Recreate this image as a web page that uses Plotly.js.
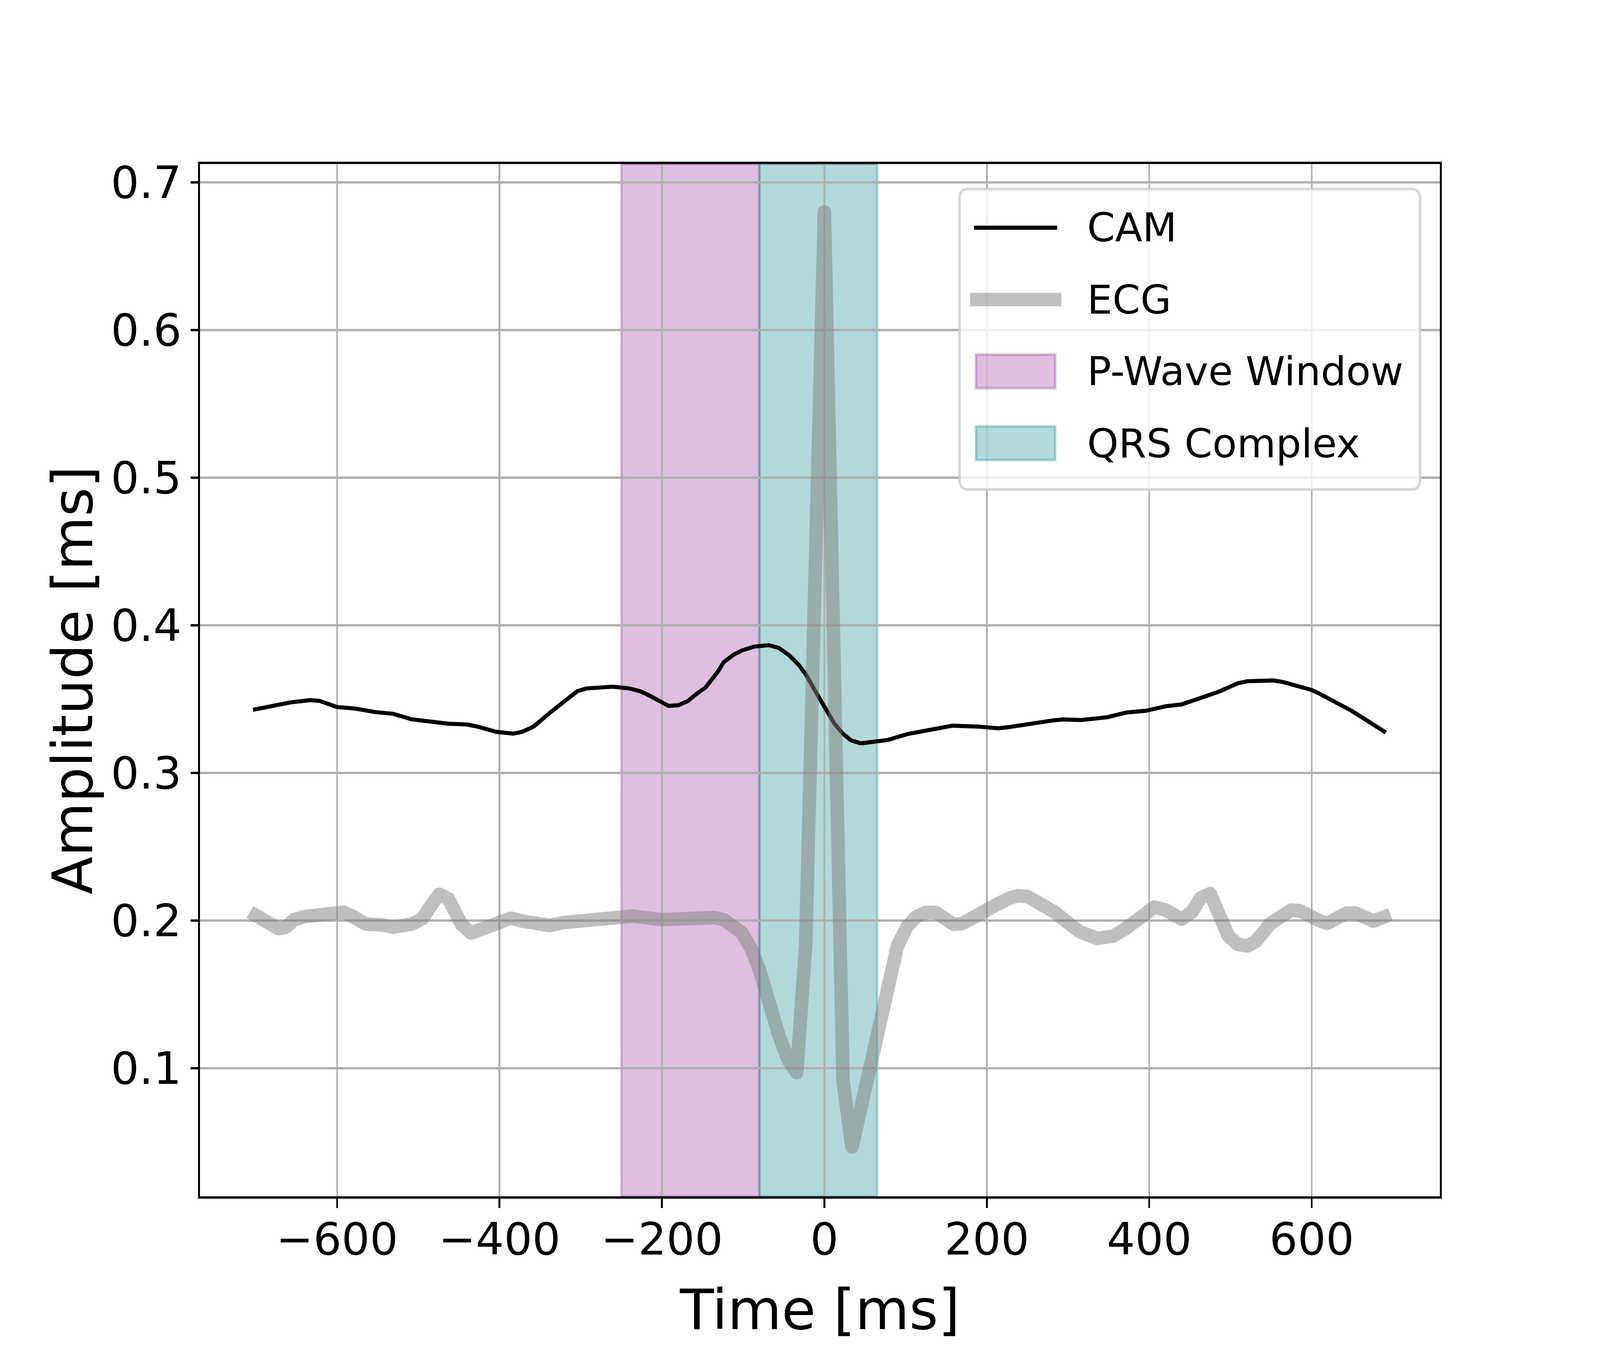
<!DOCTYPE html>
<html>
<head>
<meta charset="utf-8">
<script src="https://cdn.plot.ly/plotly-3.0.1.min.js"></script>
<style>
  html, body { margin: 0; padding: 0; background: white; overflow: hidden; }
  /* matplotlib-like joins and caps for the traces */
  .scatterlayer .js-line { stroke-linejoin: round; stroke-linecap: square; }
</style>
</head>
<body>
<div id="chart"></div>
<script>
// CAM trace (time in ms, amplitude)
const camTime = [-701, -658, -633, -621, -600, -578, -553, -531, -508, -485, -463, -440, -426, -404,
  -383, -372, -358, -336, -318, -304, -293, -261, -240, -226, -214, -201, -192, -180, -168, -158,
  -146, -131, -124, -112, -101, -86, -78, -68, -56, -43, -31, -22, -11, 0, 12, 23, 33, 45, 65, 78,
  103, 127, 146, 158, 191, 214, 227, 248, 282, 294, 316, 348, 372, 396, 420, 440, 465, 485, 509,
  521, 553, 565, 599, 609, 649, 689];
const camValue = [0.3430, 0.3477, 0.3493, 0.3487, 0.3446, 0.3436, 0.3412, 0.3400, 0.3363, 0.3350,
  0.3333, 0.3328, 0.3312, 0.3278, 0.3266, 0.3278, 0.3314, 0.3416, 0.3497, 0.3554, 0.3572, 0.3584,
  0.3572, 0.3552, 0.3520, 0.3480, 0.3454, 0.3458, 0.3487, 0.3533, 0.3580, 0.3687, 0.3750, 0.3800,
  0.3830, 0.3856, 0.3862, 0.3865, 0.3846, 0.3795, 0.3728, 0.3660, 0.3552, 0.3444, 0.3336, 0.3264,
  0.3220, 0.3200, 0.3215, 0.3223, 0.3264, 0.3288, 0.3312, 0.3320, 0.3313, 0.3302, 0.3310, 0.3330,
  0.3356, 0.3362, 0.3358, 0.3377, 0.3409, 0.3421, 0.3451, 0.3464, 0.3514, 0.3549, 0.3607, 0.3621,
  0.3626, 0.3615, 0.3563, 0.3538, 0.3421, 0.3281];

// ECG trace
const ecgTime = [-700, -672, -663, -653, -640, -621, -603, -592, -580, -565, -544, -531, -508, -494,
  -485, -474, -463, -456, -447, -435, -422, -399, -386, -372, -338, -322, -299, -281, -267, -249,
  -236, -201, -181, -136, -124, -113, -102, -90, -79, -57, -45, -34, -23, 0, 23, 34, 68, 79, 90,
  102, 113, 125, 137, 148, 159, 170, 189, 208, 227, 238, 250, 268, 284, 299, 314, 336, 356, 372,
  392, 406, 420, 440, 453, 463, 475, 485, 497, 509, 521, 531, 549, 575, 585, 609, 619, 643, 654,
  676, 689];
const ecgValue = [0.2035, 0.1945, 0.1955, 0.2006, 0.2026, 0.2030, 0.2053, 0.2057, 0.2026, 0.1976,
  0.1970, 0.1955, 0.1976, 0.2016, 0.2097, 0.2178, 0.2148, 0.2057, 0.1976, 0.1915, 0.1940, 0.2006,
  0.2016, 0.1996, 0.1966, 0.1986, 0.2000, 0.2006, 0.2015, 0.2030, 0.2030, 0.2006, 0.2015, 0.2020,
  0.2006, 0.1975, 0.1920, 0.1810, 0.1650, 0.1240, 0.1060, 0.0970, 0.1840, 0.6800, 0.0910, 0.0465,
  0.1250, 0.1580, 0.1830, 0.1960, 0.2025, 0.2055, 0.2055, 0.2015, 0.1974, 0.1980, 0.2028, 0.2096,
  0.2150, 0.2168, 0.2163, 0.2109, 0.2055, 0.1988, 0.1926, 0.1879, 0.1895, 0.1950, 0.2051, 0.2091,
  0.2071, 0.2010, 0.2061, 0.2152, 0.2182, 0.2061, 0.1899, 0.1838, 0.1828, 0.1858, 0.1980, 0.2071,
  0.2067, 0.2000, 0.1980, 0.2051, 0.2051, 0.1996, 0.2024];

// shaded windows [start, end] in ms
const pWaveWindow = [-250, -80];
const qrsWindow = [-80, 65];

const xTicks = [-600, -400, -200, 0, 200, 400, 600];
const yTicks = [0.1, 0.2, 0.3, 0.4, 0.5, 0.6, 0.7];
const legendLabels = ['CAM', 'ECG', 'P-Wave Window', 'QRS Complex'];

// the design is laid out for a 5000x3500 frame; fill whatever viewport we really get
const W = window.innerWidth || 5000, H = window.innerHeight || 3500;
const Sx = W / 5000, Sy = H / 3500;
const Sm = Math.sqrt(Sx * Sy);
const chart = document.getElementById('chart');
chart.style.width = W + 'px';
chart.style.height = H + 'px';

const FONT = 'DejaVu Sans';
const PT = 500 / 72; // matplotlib points -> px at 500 dpi
const FS = Sx;       // text scale, keeps text widths in proportion

const traces = [
  {
    x: camTime, y: camValue, type: 'scatter', mode: 'lines', name: legendLabels[0],
    line: { color: 'black', width: 1.5 * PT * Sy }
  },
  {
    x: ecgTime, y: ecgValue, type: 'scatter', mode: 'lines', name: legendLabels[1],
    line: { color: 'rgba(128,128,128,0.5)', width: 5 * PT * Sy }
  }
];

const pinkFill = 'rgba(128,0,128,0.25)';
const tealFill = 'rgba(0,128,128,0.3)';

const shapes = [
  {
    type: 'rect', xref: 'x', yref: 'paper', x0: pWaveWindow[0], x1: pWaveWindow[1], y0: 0, y1: 1,
    fillcolor: pinkFill, line: { color: pinkFill, width: PT * Sx }, layer: 'below'
  },
  {
    type: 'rect', xref: 'x', yref: 'paper', x0: qrsWindow[0], x1: qrsWindow[1], y0: 0, y1: 1,
    fillcolor: tealFill, line: { color: tealFill, width: PT * Sx }, layer: 'below'
  }
];

// hand-made legend, so handle sizes match the original (positions in 5000x3500 design px)
const plotL = 625, plotR = 4500, plotT = 420, plotB = 3063;
const px = v => (v - plotL) / (plotR - plotL);
const py = v => (plotB - v) / (plotB - plotT);

function roundRect(x0, y0, x1, y1, r) {
  const rx = r / (plotR - plotL), ry = r / (plotB - plotT);
  const X0 = px(x0), X1 = px(x1), Y0 = py(y1), Y1 = py(y0);
  return `M${X0 + rx},${Y1} L${X1 - rx},${Y1} Q${X1},${Y1} ${X1},${Y1 - ry} ` +
    `L${X1},${Y0 + ry} Q${X1},${Y0} ${X1 - rx},${Y0} L${X0 + rx},${Y0} ` +
    `Q${X0},${Y0} ${X0},${Y0 + ry} L${X0},${Y1 - ry} Q${X0},${Y1} ${X0 + rx},${Y1} Z`;
}

shapes.push({
  type: 'path', xref: 'paper', yref: 'paper', path: roundRect(2999, 484, 4438, 1253, 25),
  fillcolor: 'rgba(255,255,255,0.8)', line: { color: 'rgba(204,204,204,0.8)', width: PT * Sm },
  layer: 'above'
});
shapes.push({
  type: 'line', xref: 'paper', yref: 'paper', x0: px(3044), x1: px(3304), y0: py(583), y1: py(583),
  line: { color: 'black', width: 1.5 * PT * Sy }, layer: 'above'
});
shapes.push({
  type: 'line', xref: 'paper', yref: 'paper', x0: px(3032), x1: px(3317), y0: py(767), y1: py(767),
  line: { color: 'rgba(128,128,128,0.5)', width: 5 * PT * Sy }, layer: 'above'
});
shapes.push({
  type: 'rect', xref: 'paper', yref: 'paper', x0: px(3050), x1: px(3298), y0: py(994), y1: py(908),
  fillcolor: pinkFill, line: { color: pinkFill, width: PT * Sm }, layer: 'above'
});
shapes.push({
  type: 'rect', xref: 'paper', yref: 'paper', x0: px(3050), x1: px(3298), y0: py(1178), y1: py(1092),
  fillcolor: tealFill, line: { color: tealFill, width: PT * Sm }, layer: 'above'
});

const legendRows = [583, 767, 950, 1135];
const annotations = legendLabels.map((label, i) => ({
  xref: 'paper', yref: 'paper', x: px(3395), y: py(legendRows[i]),
  xanchor: 'left', yanchor: 'middle', showarrow: false, text: label,
  font: { family: FONT, size: 18 * PT * FS, color: 'black' }
}));

const axisCommon = {
  ticks: 'outside', tickcolor: 'black', showline: true, linecolor: 'black', mirror: true,
  showgrid: true, gridcolor: '#b0b0b0', zeroline: false,
  tickfont: { family: FONT, size: 20 * PT * FS, color: 'black' }, automargin: false
};

// label/title offsets were tuned by eye; they depend on both text size (Sx) and frame height (Sy)
const xLabelShift = Math.round(-127 * Sx + 87 * Sy);
const xTitleGap = 189 * Sy - 149 * Sx;

const layout = {
  width: W, height: H,
  margin: { l: plotL * Sx, r: (5000 - plotR) * Sx, t: plotT * Sy, b: (3500 - plotB) * Sy, pad: 0 },
  paper_bgcolor: 'white', plot_bgcolor: 'white',
  font: { family: FONT, color: 'black' },
  showlegend: false,
  xaxis: Object.assign({}, axisCommon, {
    range: [-768.7, 757.7], tickmode: 'array', tickvals: xTicks,
    ticklen: 3.5 * PT * Sy, tickwidth: 0.8 * PT * Sx, linewidth: 0.8 * PT * Sy, gridwidth: 0.8 * PT * Sx,
    ticklabelstandoff: xLabelShift,
    title: { text: 'Time [ms]', font: { family: FONT, size: 25 * PT * FS, color: 'black' }, standoff: xTitleGap }
  }),
  yaxis: Object.assign({}, axisCommon, {
    range: [0.0132, 0.7124], tickmode: 'array', tickvals: yTicks,
    ticklen: 3.5 * PT * Sx, tickwidth: 0.8 * PT * Sy, linewidth: 0.8 * PT * Sx, gridwidth: 0.8 * PT * Sy,
    title: { text: 'Amplitude [ms]', font: { family: FONT, size: 25 * PT * FS, color: 'black' }, standoff: 0 }
  }),
  shapes: shapes,
  annotations: annotations
};

Plotly.newPlot(chart, traces, layout, { displayModeBar: false, staticPlot: true });
</script>
</body>
</html>
